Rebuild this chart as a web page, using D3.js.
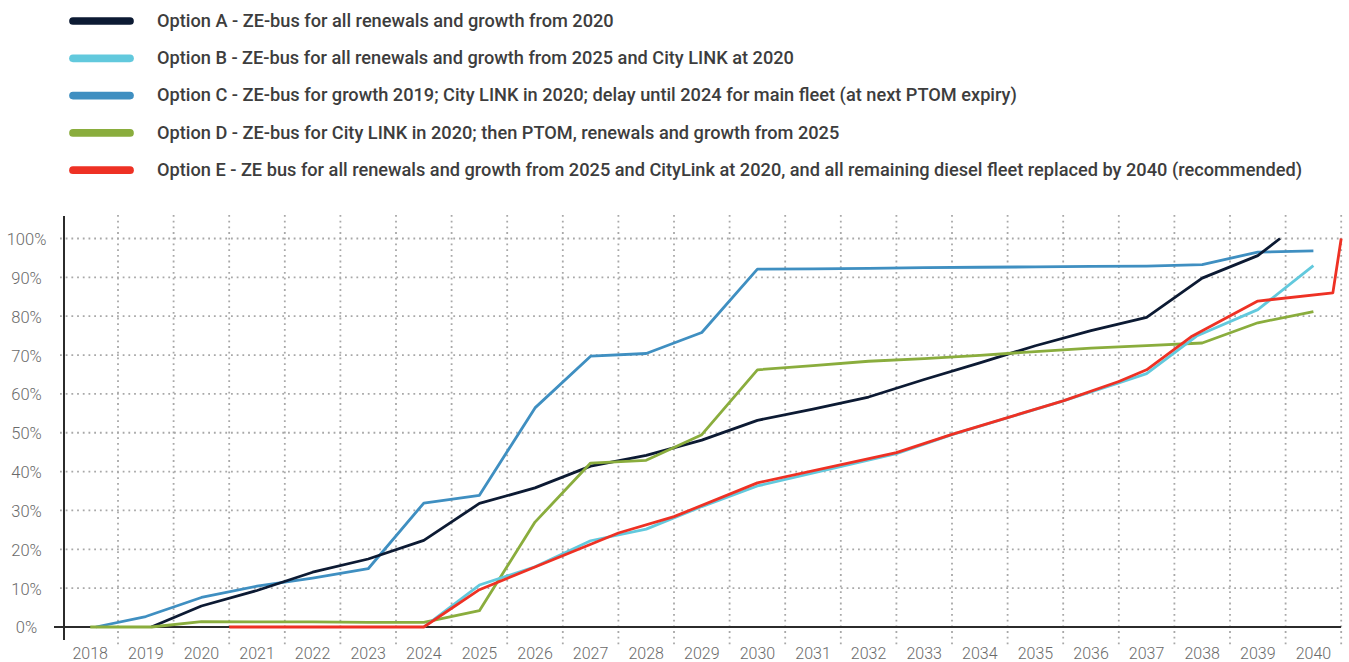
<!DOCTYPE html>
<html lang="en">
<head>
<meta charset="UTF-8">
<title>ZE-bus options</title>
<script src="https://d3js.org/d3.v7.min.js"></script>
<style>
body{margin:0;background:#fff;}
.legend text{font-family:Roboto,"Open Sans",sans-serif;font-weight:500;fill:#3d3d3d;}
.tick text{font-family:Roboto,"Open Sans",sans-serif;font-weight:300;fill:#6a6a6a;font-size:16px;}
</style>
</head>
<body>
<script>
// years on the x axis
var years = d3.range(2018, 2041);
var yTicks = d3.range(0, 101, 10);

var names = [
  "Option A - ZE-bus for all renewals and growth from 2020",
  "Option B - ZE-bus for all renewals and growth from 2025 and City LINK at 2020",
  "Option C - ZE-bus for growth 2019; City LINK in 2020; delay until 2024 for main fleet (at next PTOM expiry)",
  "Option D - ZE-bus for City LINK in 2020; then PTOM, renewals and growth from 2025",
  "Option E - ZE bus for all renewals and growth from 2025 and CityLink at 2020, and all remaining diesel fleet replaced by 2040 (recommended)"
];
var colors = ["#0c1a33", "#62c9dd", "#3f8fc1", "#8aad3d", "#ee3124"];

// [year, % of fleet]
var optionA = [[2019.1,0],[2020,5.4],[2021,9.4],[2022,14.1],[2023,17.5],[2024,22.3],[2025,31.8],[2026,35.8],[2027,41.4],[2028,44.2],[2029,48.1],[2030,53.2],[2031,56.1],[2032,59.2],[2033,63.7],[2034,68.0],[2035,72.4],[2036,76.3],[2037,79.7],[2038,89.8],[2039,95.6],[2039.4,100]];
var optionB = [[2024,0],[2025,10.8],[2026,15.5],[2027,22.2],[2028,25.2],[2029,31.0],[2030,36.3],[2032.5,44.6],[2033.5,49.5],[2035.5,58.2],[2036.5,62.8],[2037,65.2],[2037.9,74.9],[2039,81.7],[2040,93.0]];
var optionC = [[2018.1,0],[2019,2.7],[2020,7.6],[2021,10.5],[2022,12.6],[2023,15.0],[2024,31.9],[2025,33.9],[2026,56.4],[2027,69.7],[2028,70.4],[2029,75.8],[2030,92.1],[2031,92.2],[2032,92.3],[2033,92.5],[2034,92.6],[2035,92.7],[2036,92.8],[2037,92.9],[2038,93.3],[2039,96.5],[2040,96.8]];
var optionD = [[2018,0],[2019.1,0],[2020,1.4],[2021,1.3],[2022,1.3],[2023,1.2],[2024,1.2],[2025,4.2],[2026,27.0],[2027,42.2],[2028,42.9],[2029,49.5],[2030,66.2],[2031,67.3],[2032,68.4],[2033,69.1],[2034,69.9],[2035,70.9],[2036,71.8],[2037,72.4],[2038,73.1],[2039,78.3],[2040,81.2]];
var optionE = [[2020.5,0],[2024,0],[2025,9.6],[2027.5,24.2],[2028.5,28.4],[2030,37.1],[2032.5,44.9],[2033.5,49.6],[2035.5,58.2],[2036.5,63.2],[2037,66.2],[2037.8,74.7],[2039,83.9],[2040.35,86.0],[2040.5,100]];

var seriesData = [optionA, optionB, optionC, optionD, optionE];
var drawOrder = [2, 0, 3, 1, 4];

var width = 1349, height = 662;
var svg = d3.select("body").append("svg").attr("width", width).attr("height", height);

var x = d3.scaleBand().domain(years).range([62.4, 1341.2]);
var half = x.bandwidth() / 2;
// numeric year -> centre of its band
var xp = d3.scaleLinear().domain([2018, 2040]).range([x(2018) + half, x(2040) + half]);
var y = d3.scaleLinear().domain([0, 100]).range([627, 238.5]);

// grid
var gridColor = "#a8a8a8";
svg.append("g").selectAll("line").data(yTicks.slice(1)).join("line")
  .attr("x1", 60).attr("x2", 1341).attr("y1", d => y(d)).attr("y2", d => y(d))
  .attr("stroke", gridColor).attr("stroke-width", 1.8).attr("stroke-dasharray", "1.8,3.9");
svg.append("g").selectAll("line").data(years).join("line")
  .attr("x1", d => x(d) + x.bandwidth()).attr("x2", d => x(d) + x.bandwidth())
  .attr("y1", 215).attr("y2", 647)
  .attr("stroke", gridColor).attr("stroke-width", 1.8).attr("stroke-dasharray", "1.8,3.9");

// axes
var xAxis = svg.append("g").attr("transform", "translate(0,659)")
  .call(d3.axisBottom(x).tickSize(0).tickPadding(0));
xAxis.select(".domain").remove();
xAxis.selectAll("text").attr("dy", 0);

var yAxis = svg.append("g").attr("transform", "translate(64,0)")
  .call(d3.axisLeft(y).tickValues(yTicks).tickFormat(d => d + "%").tickSize(0));
yAxis.select(".domain").remove();
yAxis.selectAll("text").attr("x", -37.5).attr("text-anchor", "middle").attr("dy", "0.36em")
  .style("font-size", "16.5px");

svg.append("line").attr("x1", 64).attr("x2", 64).attr("y1", 216).attr("y2", 640)
  .attr("stroke", "#2b2b2b").attr("stroke-width", 2);
svg.append("line").attr("x1", 54).attr("x2", 1341).attr("y1", y(0)).attr("y2", y(0))
  .attr("stroke", "#2b2b2b").attr("stroke-width", 2.2);

// lines
var line = d3.line().x(d => xp(d[0])).y(d => y(d[1]));
drawOrder.forEach(function(i){
  svg.append("path").datum(seriesData[i])
    .attr("fill", "none").attr("stroke", colors[i]).attr("stroke-width", 2.8)
    .attr("stroke-linejoin", "round").attr("d", line);
});

// legend
var legend = svg.append("g").attr("class", "legend");
var rows = legend.selectAll("g").data(names).join("g")
  .attr("transform", (d, i) => "translate(0," + (21 + i * 37.3) + ")");
rows.append("line").attr("x1", 73).attr("x2", 130).attr("y1", 0).attr("y2", 0)
  .attr("stroke", (d, i) => colors[i]).attr("stroke-width", 7.7).attr("stroke-linecap", "round");
var texts = rows.append("text").attr("x", 157).attr("y", 5.8).style("font-size", "17px").text(d => d);
// fit the longest label to the width it has in the original
var longest = texts.nodes()[4].getComputedTextLength();
var fs = Math.max(14, Math.min(19, 17 * 1146 / longest));
texts.style("font-size", fs + "px");
</script>
</body>
</html>
